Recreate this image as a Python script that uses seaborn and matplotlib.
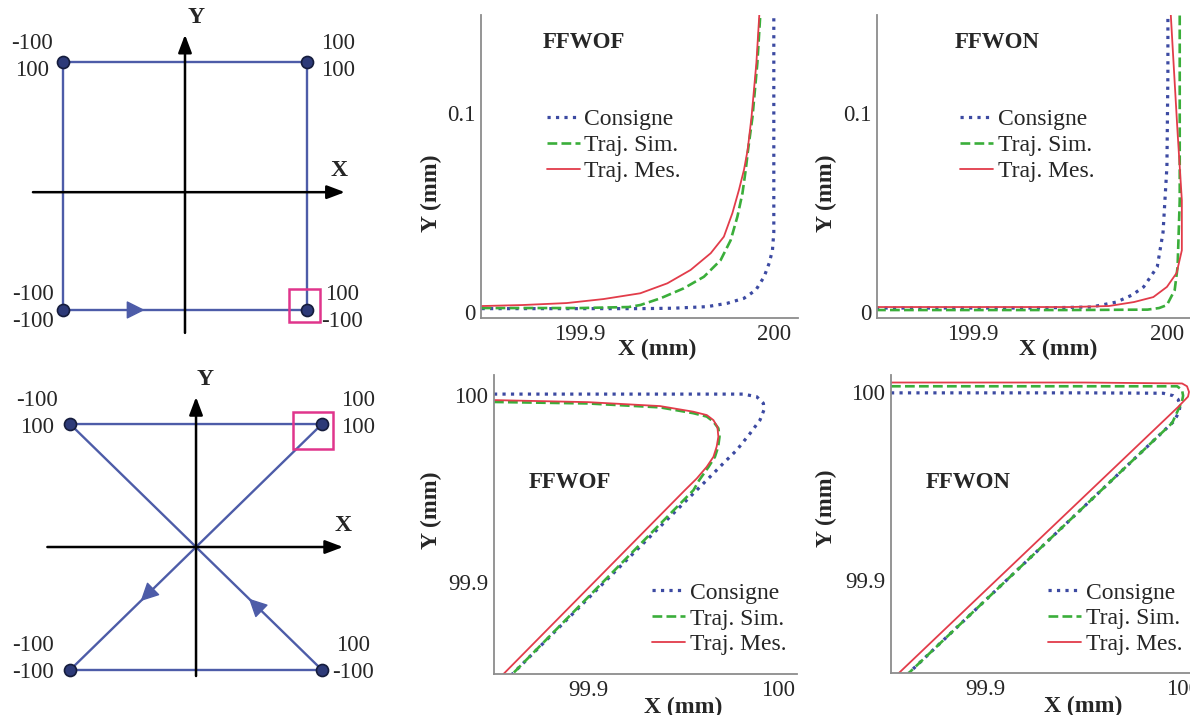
import matplotlib
matplotlib.use("Agg")
import matplotlib.pyplot as plt
from matplotlib.patches import Rectangle
import numpy as np
import pandas as pd
import seaborn as sns

# ---- schematic paths (mm) ----
# square: BL -> BR -> TR -> TL -> BL
square_x = [-100, 100, 100, -100, -100]
square_y = [-100, -100, 100, 100, -100]
# hourglass: BL -> BR -> TL -> TR -> BL
hour_x = [-100, 100, -100, 100, -100]
hour_y = [-100, -100, 100, 100, -100]
corner_x = [-100, 100, -100, 100]
corner_y = [100, 100, -100, -100]

# ---- FFWOF, corner of the square (x ~ 200, y ~ 0) ----
wof_sq_cons_x = [199.849, 199.90, 199.931, 199.948, 199.9656, 199.976, 199.9846, 199.9907, 199.995, 199.9976, 199.9993, 200.0, 200.0]
wof_sq_cons_y = [0.0017, 0.0017, 0.0017, 0.0019, 0.0027, 0.0044, 0.0069, 0.011, 0.0177, 0.0245, 0.031, 0.040, 0.149]
wof_sq_sim_x = [199.849, 199.90, 199.925, 199.931, 199.9415, 199.9535, 199.9639, 199.9725, 199.9777, 199.9812, 199.9838, 199.9855, 199.9867, 199.989, 199.9915, 199.993]
wof_sq_sim_y = [0.002, 0.002, 0.0025, 0.0035, 0.0069, 0.0119, 0.0177, 0.026, 0.036, 0.0479, 0.0596, 0.0714, 0.0814, 0.098, 0.125, 0.149]
wof_sq_mes_x = [199.849, 199.87, 199.893, 199.912, 199.931, 199.945, 199.957, 199.9674, 199.9742, 199.9786, 199.982, 199.9846, 199.9865, 199.9885, 199.991, 199.9925]
wof_sq_mes_y = [0.003, 0.0035, 0.0045, 0.0065, 0.0094, 0.0144, 0.0211, 0.0295, 0.0378, 0.0496, 0.0613, 0.0714, 0.0814, 0.098, 0.125, 0.149]

# ---- FFWON, corner of the square ----
won_sq_cons_x = [199.85, 199.93, 199.961, 199.974, 199.982, 199.988, 199.995, 199.998, 200.0, 200.0005, 200.0005]
won_sq_cons_y = [0.002, 0.002, 0.0025, 0.005, 0.0085, 0.0126, 0.0226, 0.040, 0.073, 0.12, 0.149]
won_sq_sim_x = [199.85, 199.95, 199.99, 199.996, 200.0, 200.004, 200.0055, 200.0066, 200.0066, 200.0066]
won_sq_sim_y = [0.001, 0.001, 0.0012, 0.002, 0.0035, 0.011, 0.0226, 0.056, 0.106, 0.149]
won_sq_mes_x = [199.85, 199.95, 199.97, 199.983, 199.993, 200.0, 200.005, 200.0077, 200.0077, 200.0055, 200.003, 200.002]
won_sq_mes_y = [0.0025, 0.0025, 0.003, 0.005, 0.0075, 0.0126, 0.0196, 0.031, 0.056, 0.09, 0.132, 0.149]

# ---- FFWOF, corner of the hourglass (x ~ 100, y ~ 100) ----
wof_hg_cons_x = [99.8505, 99.95, 99.9817, 99.9888, 99.9923, 99.9926, 99.9905, 99.9853, 99.9783, 99.9712, 99.9642, 99.9572, 99.860]
wof_hg_cons_y = [100.0005, 100.0005, 100.0005, 99.9991, 99.9956, 99.992, 99.9866, 99.9795, 99.9706, 99.9635, 99.9563, 99.9492, 99.8508]
wof_hg_sim_x = [99.8505, 99.90, 99.938, 99.9554, 99.9625, 99.966, 99.9686, 99.9692, 99.9685, 99.9668, 99.9635, 99.9585, 99.9555, 99.860]
wof_hg_sim_y = [99.9963, 99.9955, 99.9934, 99.9903, 99.9885, 99.9858, 99.9822, 99.9777, 99.9724, 99.967, 99.9617, 99.9545, 99.9492, 99.8508]
wof_hg_mes_x = [99.8505, 99.90, 99.9379, 99.9554, 99.9625, 99.966, 99.9681, 99.9686, 99.9677, 99.966, 99.9625, 99.9572, 99.951, 99.8553]
wof_hg_mes_y = [99.9973, 99.9962, 99.9941, 99.9911, 99.9893, 99.9866, 99.983, 99.9777, 99.9724, 99.967, 99.9617, 99.9554, 99.9492, 99.8508]

# ---- FFWON, corner of the hourglass ----
won_hg_cons_x = [99.8525, 99.95, 99.990, 99.995, 99.9975, 99.9985, 99.998, 99.9955, 99.8615]
won_hg_cons_y = [99.9995, 99.9995, 99.9993, 99.998, 99.996, 99.993, 99.9895, 99.9845, 99.8505]
won_hg_sim_x = [99.8525, 99.95, 99.997, 99.9995, 100.0, 99.9995, 99.9945, 99.8615]
won_hg_sim_y = [100.003, 100.003, 100.003, 100.001, 99.998, 99.995, 99.9835, 99.8505]
won_hg_mes_x = [99.8525, 99.95, 99.9995, 100.002, 100.003, 100.0025, 99.9975, 99.8565]
won_hg_mes_y = [100.005, 100.005, 100.0045, 100.003, 100.0, 99.9975, 99.992, 99.8505]

series_names = ["Consigne", "Traj. Sim.", "Traj. Mes."]

sns.set_theme(style="white")
plt.rcParams["font.family"] = ["Liberation Serif", "DejaVu Serif"]

W, H = 1190, 715
fig = plt.figure(figsize=(W / 100, H / 100), dpi=100)
fig.patch.set_facecolor("white")


def px_axes(left, top, right, bottom):
    return fig.add_axes([left / W, 1 - bottom / H, (right - left) / W, (bottom - top) / H])


PATH_BLUE = "#4d5ca8"
DOT_BLUE = "#2d3a78"
PINK = "#e0358c"
LINE_STYLES = [("#3c4aa2", ":", 2.3), ("#3aae3a", "--", 1.9), ("#e23c4a", "-", 1.3)]


def schematic(ax, px, py, axis_y0, x_axis, y_axis, arrows, box, label_offsets, xl, yl):
    ax.axis("off")
    sns.lineplot(x=px, y=py, sort=False, estimator=None, color=PATH_BLUE, lw=1.7, ax=ax)
    ax.scatter(corner_x, corner_y, s=75, color=DOT_BLUE, edgecolor="#151c3c", lw=1.2, zorder=5)
    axis_style = dict(arrowstyle="-|>,head_length=0.45,head_width=0.17", color="black",
                      lw=1.8, shrinkA=0, shrinkB=0, mutation_scale=24)
    ax.annotate("", xy=(x_axis[1], axis_y0), xytext=(x_axis[0], axis_y0), arrowprops=axis_style)
    ax.annotate("", xy=(0, y_axis[1]), xytext=(0, y_axis[0]), arrowprops=axis_style)
    ax.annotate("X", xy=(x_axis[1], axis_y0), xytext=xl, textcoords="offset pixels",
                ha="center", va="center", fontsize=17, fontweight="bold")
    ax.annotate("Y", xy=(0, y_axis[1]), xytext=yl, textcoords="offset pixels",
                ha="center", va="center", fontsize=17, fontweight="bold")
    path_style = dict(arrowstyle="-|>,head_length=0.6,head_width=0.3", color=PATH_BLUE,
                      lw=1.0, shrinkA=0, shrinkB=0, mutation_scale=19)
    for i, frac in arrows:
        x0, y0, x1, y1 = px[i], py[i], px[i + 1], py[i + 1]
        tip = (x0 + frac * (x1 - x0), y0 + frac * (y1 - y0))
        back = (tip[0] - 0.03 * (x1 - x0), tip[1] - 0.03 * (y1 - y0))
        ax.annotate("", xy=tip, xytext=back, arrowprops=path_style)
    (cx, cy), (dx0, dy0, dx1, dy1) = box
    ax.add_patch(Rectangle((cx + dx0, cy + dy0), dx1 - dx0, dy1 - dy0, fill=False,
                           edgecolor=PINK, lw=1.8, zorder=6))
    for x, y, off in zip(corner_x, corner_y, label_offsets):
        ax.annotate(f"{x}\n{y}", xy=(x, y), xytext=off, textcoords="offset pixels",
                    ha="center", va="center", multialignment="center",
                    fontsize=16.5, linespacing=1.35)


ax_sq = px_axes(0, 0, 400, 350)
ax_sq.set_xlim(-151.6, 176.2)
ax_sq.set_ylim(-132.3, 150)
schematic(ax_sq, square_x, square_y, -5, (-124.6, 131), (-118.5, 122),
          arrows=[(0, 0.335)], box=((100, -100), (-14.8, -9.7, 10.7, 17)),
          label_offsets=[(-31, 5), (31, 5), (-30, 2), (35, 2)],
          xl=(-6, 22), yl=(11, 17))

ax_hg = px_axes(0, 350, 400, 715)
ax_hg.set_xlim(-155.6, 161.9)
ax_hg.set_ylim(-136.6, 160.2)
schematic(ax_hg, hour_x, hour_y, 0, (-118, 116.7), (-104.9, 122),
          arrows=[(1, 0.29), (3, 0.72)], box=((100, 100), (-23, -20.3, 8.7, 9.8)),
          label_offsets=[(-33, 10), (36, 10), (-37, 11), (31, 11)],
          xl=(0, 22), yl=(9, 17))


def panel(ax, xs, ys, xlim, ylim, ticks, ticklabels, title, title_xy, leg_xy, xlab_xy, ylab_xy):
    for (x, y), name, (color, ls, lw) in zip(zip(xs, ys), series_names, LINE_STYLES):
        sns.lineplot(x=x, y=y, sort=False, estimator=None, color=color, linestyle=ls,
                     lw=lw, label=name, ax=ax)
    ax.set_xlim(*xlim)
    ax.set_ylim(*ylim)
    ax.set_xticks(ticks[0])
    ax.set_xticklabels(ticklabels[0])
    ax.set_yticks(ticks[1])
    ax.set_yticklabels(ticklabels[1])
    ax.tick_params(direction="in", length=3, width=1, color="#9a9a9a", labelsize=16.5, pad=4)
    for s in ["top", "right"]:
        ax.spines[s].set_visible(False)
    for s in ["left", "bottom"]:
        ax.spines[s].set_color("#8c8c8c")
        ax.spines[s].set_linewidth(1.3)
    ax.set_xlabel("X (mm)", fontsize=17, fontweight="bold")
    ax.set_ylabel("Y (mm)", fontsize=17, fontweight="bold")
    ax.xaxis.set_label_coords(*xlab_xy)
    ax.yaxis.set_label_coords(*ylab_xy)
    ax.text(title_xy[0], title_xy[1], title, transform=ax.transAxes, ha="center", va="center",
            fontsize=16.5, fontweight="bold")
    ax.legend(loc="upper left", bbox_to_anchor=leg_xy, frameon=False, fontsize=17,
              borderpad=0, borderaxespad=0, handlelength=1.4, handletextpad=0.2,
              labelspacing=0.18)


sq_ticks = ([199.9, 199.95, 200.0], [0, 0.05, 0.1])
sq_labels = (["199.9", "", "200"], ["0", "", "0.1"])
hg_ticks = ([99.9, 99.95, 100.0], [99.9, 99.95, 100.0])
hg_labels = (["99.9", "", "100"], ["99.9", "", "100"])

ax_a = px_axes(481, 15, 798, 318)
panel(ax_a, [wof_sq_cons_x, wof_sq_sim_x, wof_sq_mes_x], [wof_sq_cons_y, wof_sq_sim_y, wof_sq_mes_y],
      (199.8487, 200.0125), (-0.003, 0.149), sq_ticks, sq_labels, "FFWOF", (0.326, 0.908),
      (0.207, 0.69), (0.555, -0.07), (-0.122, 0.413))

ax_b = px_axes(877, 15, 1190, 318)
panel(ax_b, [won_sq_cons_x, won_sq_sim_x, won_sq_mes_x], [won_sq_cons_y, won_sq_sim_y, won_sq_mes_y],
      (199.8505, 200.0119), (-0.003, 0.149), sq_ticks, sq_labels, "FFWON", (0.383, 0.908),
      (0.265, 0.69), (0.578, -0.07), (-0.128, 0.413))

ax_c = px_axes(494, 375, 797, 674)
panel(ax_c, [wof_hg_cons_x, wof_hg_sim_x, wof_hg_mes_x], [wof_hg_cons_y, wof_hg_sim_y, wof_hg_mes_y],
      (99.8505, 100.010), (99.851, 100.0107), hg_ticks, hg_labels, "FFWOF", (0.251, 0.639),
      (0.521, 0.307), (0.624, -0.075), (-0.172, 0.548))

ax_d = px_axes(891, 375, 1190, 673)
panel(ax_d, [won_hg_cons_x, won_hg_sim_x, won_hg_mes_x], [won_hg_cons_y, won_hg_sim_y, won_hg_mes_y],
      (99.8525, 100.0035), (99.8505, 100.009), hg_ticks, hg_labels, "FFWON", (0.258, 0.638),
      (0.525, 0.305), (0.642, -0.078), (-0.18, 0.554))

fig.savefig("out.png", dpi=100, facecolor="white")
